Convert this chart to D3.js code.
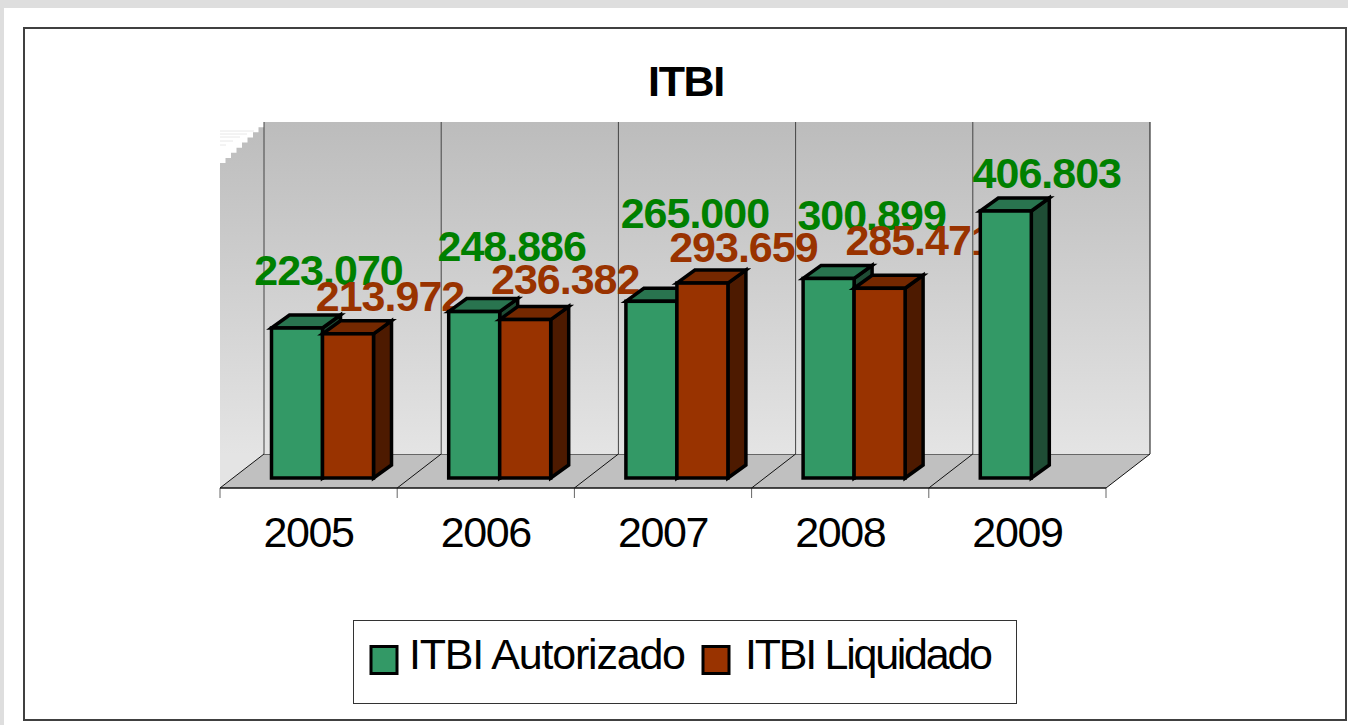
<!DOCTYPE html>
<html>
<head>
<meta charset="utf-8">
<script src="https://cdn.jsdelivr.net/npm/d3@7"></script>
<style>
html,body{margin:0;padding:0;background:#fff;overflow:hidden}
svg{display:block}
text{font-family:"Liberation Sans",Arial,sans-serif}
</style>
</head>
<body>
<svg id="c" width="1348" height="725"></svg>
<script>
const years = ["2005","2006","2007","2008","2009"];
const seriesNames = ["ITBI Autorizado","ITBI Liquidado"];
const autorizado = [223070,248886,265000,300899,406803];
const liquidado = [213972,236382,293659,285471,null];
const title = "ITBI";

// hand-placed data label offsets (the labels were moved by hand in the original)
const labelDxA = [31.5,37.5,43.5,43,41], labelDyA = [43,51,73,48,23];
const labelDxL = [42,40,41,40,0],  labelDyL = [23,26,21,33,0];

const W = 1348, H = 725;
const svg = d3.select("#c");
const defs = svg.append("defs");
const grad = defs.append("linearGradient").attr("id","wall")
  .attr("gradientUnits","userSpaceOnUse").attr("x1",0).attr("x2",0).attr("y1",122).attr("y2",454);
grad.append("stop").attr("offset",0).attr("stop-color","#bcbcbc");
grad.append("stop").attr("offset",1).attr("stop-color","#e4e4e4");

// page frame
svg.append("rect").attr("width",W).attr("height",8).attr("fill","#dedede");
svg.append("rect").attr("width",4).attr("height",H).attr("fill","#dedede");
svg.append("rect").attr("x",24).attr("y",28).attr("width",1322).attr("height",692)
  .attr("fill","#fff").attr("stroke","#404040").attr("stroke-width",2);

// scales
const x0 = d3.scaleBand().domain(years).range([220,1106]);
const x1 = d3.scaleBand().domain(seriesNames).range([51.5,153.5]);
const y = d3.scaleLinear().domain([-12400,406803]).range([478,211]);
const wallOffX = 44, wallOffY = 34, floorY = 488;
const wallTop = 122, wallBack = floorY - wallOffY;
const depthX = 18, depthY = 13;

// walls
const left = x0.range()[0], right = x0.range()[1];
svg.append("rect").attr("x",left+wallOffX).attr("y",wallTop)
  .attr("width",right-left).attr("height",wallBack-wallTop).attr("fill","url(#wall)");
// side wall with stepped upper edge
const steps = d3.range(0,9);
const stepPts = [[left,floorY]];
steps.forEach(i=>{
  const px = left + i*wallOffX/8, py = 163 - i*41/8;
  stepPts.push([px,py]);
  stepPts.push([px+wallOffX/8,py]);
});
stepPts.push([left+wallOffX,wallTop],[left+wallOffX,wallBack]);
svg.append("polygon").attr("points",stepPts.join(" ")).attr("fill","url(#wall)");
// faint streaks at the top of the side wall
[131,134,137,141,145].forEach((yy,i)=>{
  svg.append("line").attr("x1",left).attr("x2",left+wallOffX-10-i*7).attr("y1",yy).attr("y2",yy)
    .attr("stroke","#e8e8e8").attr("stroke-width",1);
});
// floor
svg.append("polygon")
  .attr("points",[[left+wallOffX,wallBack],[right+wallOffX,wallBack],[right,floorY],[left,floorY]].join(" "))
  .attr("fill","#c0c0c0");
svg.append("line").attr("x1",left+wallOffX).attr("x2",right+wallOffX).attr("y1",wallBack+.5).attr("y2",wallBack+.5)
  .attr("stroke","#666").attr("stroke-width",1);

// gridlines, floor diagonals, ticks
const edges = years.map(d=>x0(d)).concat([right]);
edges.forEach((e,i)=>{
  svg.append("line").attr("x1",e+wallOffX).attr("x2",e+wallOffX).attr("y1",wallTop).attr("y2",wallBack)
    .attr("stroke",i===5?"#111":"#444").attr("stroke-width",1);
  svg.append("line").attr("x1",e+wallOffX).attr("x2",e).attr("y1",wallBack).attr("y2",floorY)
    .attr("stroke","#111").attr("stroke-width",1);
  svg.append("line").attr("x1",e).attr("x2",e).attr("y1",floorY).attr("y2",floorY+10)
    .attr("stroke","#666").attr("stroke-width",1);
});
svg.append("line").attr("x1",left).attr("x2",right).attr("y1",floorY).attr("y2",floorY)
  .attr("stroke","#111").attr("stroke-width",1.5);

// axis labels
const axis = svg.append("g").attr("transform",`translate(0,${floorY})`)
  .call(d3.axisBottom(x0).tickSize(0).tickPadding(28.5));
axis.select(".domain").remove();
axis.selectAll("text").attr("font-size",43).attr("fill","#000")
  .attr("font-family",'"Liberation Sans",Arial,sans-serif').attr("letter-spacing",-1.4);

// bars & labels, drawn category by category so later bars cover earlier labels
const palette = {
  [seriesNames[0]]:{front:"#339966",top:"#29744f",side:"#1f4d35",label:"#008000"},
  [seriesNames[1]]:{front:"#993300",top:"#752800",side:"#4d1a00",label:"#993300"}
};
function bar(g,name,year,v){
  const c = palette[name];
  const xa = x0(year)+x1(name), xb = xa+x1.bandwidth();
  const top = y(v), bot = y.range()[0];
  const st = s=>s.attr("stroke","#000").attr("stroke-width",3.5).attr("stroke-linejoin","miter");
  g.append("polygon").attr("points",[[xb,bot],[xb+depthX,bot-depthY],[xb+depthX,top-depthY],[xb,top]].join(" "))
    .attr("fill",c.side).call(st);
  g.append("polygon").attr("points",[[xa,top],[xa+depthX,top-depthY],[xb+depthX,top-depthY],[xb,top]].join(" "))
    .attr("fill",c.top).call(st);
  g.append("rect").attr("x",xa).attr("y",top).attr("width",xb-xa).attr("height",bot-top)
    .attr("fill",c.front).call(st);
}
function label(g,name,year,v,dx,dy){
  g.append("text").attr("x",x0(year)+x1(name)+x1.bandwidth()/2+dx).attr("y",y(v)-dy)
    .attr("text-anchor","middle").attr("font-size",43).attr("font-weight","bold").attr("letter-spacing",-1)
    .attr("fill",palette[name].label).text(d3.format(",")(v).replace(/,/g,"."));
}
years.forEach((yr,i)=>{
  const g = svg.append("g");
  bar(g,seriesNames[0],yr,autorizado[i]);
  if(liquidado[i]!=null) bar(g,seriesNames[1],yr,liquidado[i]);
  label(g,seriesNames[0],yr,autorizado[i],labelDxA[i],labelDyA[i]);
  if(liquidado[i]!=null) label(g,seriesNames[1],yr,liquidado[i],labelDxL[i],labelDyL[i]);
});

// title
svg.append("text").attr("x",686).attr("y",96).attr("text-anchor","middle")
  .attr("font-size",43).attr("font-weight","bold").attr("letter-spacing",-1.3).attr("fill","#000").text(title);

// legend
svg.append("rect").attr("x",353.5).attr("y",620.5).attr("width",663).attr("height",83)
  .attr("fill","#fff").attr("stroke","#333").attr("stroke-width",1);
const legendX = [371,703], legendTextX = [409,745], legendLen = [277,248];
seriesNames.forEach((n,i)=>{
  svg.append("rect").attr("x",legendX[i]).attr("y",646.5).attr("width",26).attr("height",27)
    .attr("fill",palette[n].front).attr("stroke","#000").attr("stroke-width",3);
  svg.append("text").attr("x",legendTextX[i]).attr("y",669).attr("font-size",43)
    .attr("fill","#000").attr("textLength",legendLen[i]).text(n);
});
</script>
</body>
</html>
